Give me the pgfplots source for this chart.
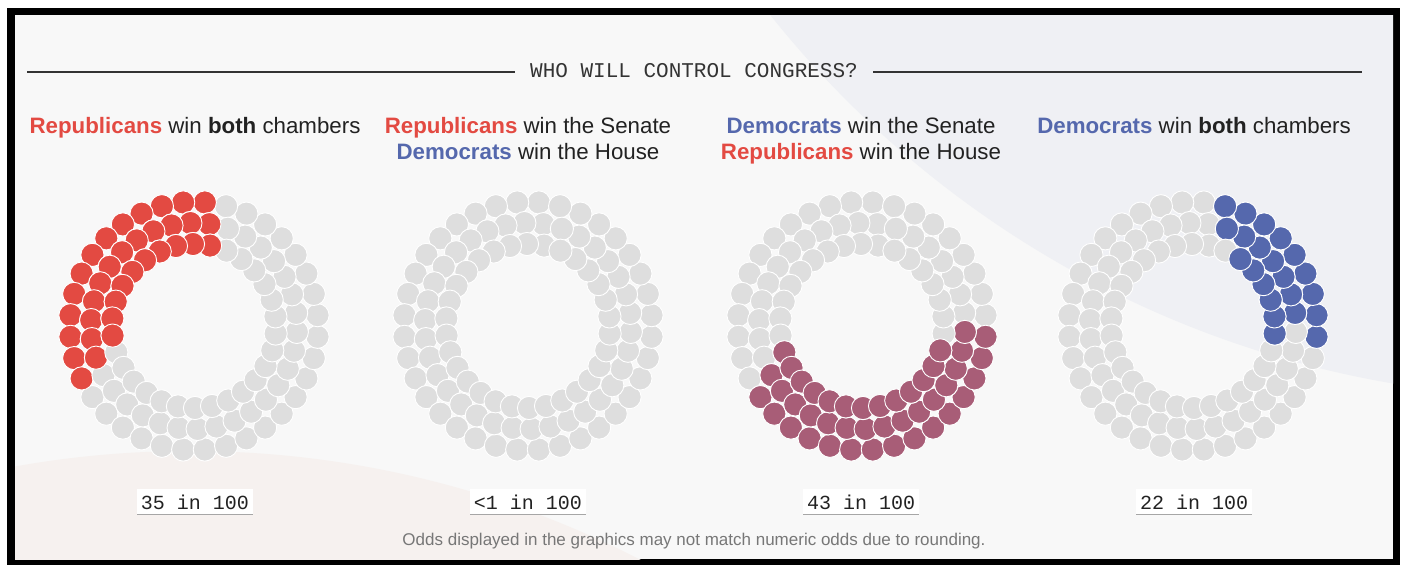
\documentclass[border=0pt]{standalone}
\usepackage{fontspec}
\setmainfont{Liberation Sans}
\newfontfamily\monofont{Liberation Mono}
\usepackage{pgfplots}
\pgfplotsset{compat=1.18}
\usepackage{pgfplotstable}
\definecolor{rep}{HTML}{E34A42}
\definecolor{dem}{HTML}{5568AD}
\definecolor{mix}{HTML}{A85D77}
\definecolor{dotgray}{HTML}{DEDEDE}
\definecolor{panel}{HTML}{F8F8F8}
\definecolor{shadeA}{HTML}{EFF0F4}
\definecolor{shadeB}{HTML}{F6F1EF}
\definecolor{ink}{HTML}{333333}
\definecolor{txt}{HTML}{222222}
\definecolor{note}{HTML}{777777}

% dot positions: angle (deg), ring radius
\pgfplotstableread{
a r
85 124
95 124
105 124
115 124
125 124
135 124
145 124
155 124
165 124
175 124
185 124
195 124
205 124
215 124
225 124
235 124
245 124
255 124
265 124
275 124
285 124
295 124
305 124
315 124
325 124
335 124
345 124
355 124
365 124
375 124
385 124
395 124
405 124
415 124
425 124
435 124
}\outerring
\pgfplotstableread{
a r
81.4 103
92.0 103
102.6 103
113.2 103
123.8 103
134.3 103
144.9 103
155.5 103
166.1 103
176.7 103
187.3 103
197.9 103
208.5 103
219.0 103
229.6 103
240.2 103
250.8 103
261.4 103
272.0 103
282.6 103
293.2 103
303.7 103
314.3 103
324.9 103
335.5 103
346.1 103
356.7 103
367.3 103
377.9 103
388.5 103
399.0 103
409.6 103
420.2 103
430.8 103
}\middlering
\pgfplotstableread{
a r
78.7 82
90.7 82
102.7 82
114.7 82
126.7 82
138.7 82
150.7 82
162.7 82
174.7 82
186.7 82
198.7 82
210.7 82
222.7 82
234.7 82
246.7 82
258.7 82
270.7 82
282.7 82
294.7 82
306.7 82
318.7 82
330.7 82
342.7 82
354.7 82
366.7 82
378.7 82
390.7 82
402.7 82
414.7 82
426.7 82
}\innerring

\pgfplotsset{
  donut/.style={x=1pt,y=1pt,xmin=-140,xmax=140,ymin=-140,ymax=140,
    hide axis,clip=false,anchor=center,data cs=polar},
  dot/.style={only marks,mark=*,mark size=11.6pt,
    mark options={draw=white,line width=0.9pt,fill=#1}},
}

\begin{document}
\begin{tikzpicture}
\begin{scope}[x=1pt,y=-1pt]
\useasboundingbox (0,0) rectangle (1405,565);
\fill[white] (0,0) rectangle (1405,565);
\fill[black] (7,8) rectangle (1400,565);
\begin{scope}
\clip (15,15) rectangle (1393,559);
\fill[panel] (15,15) rectangle (1393,559);
\fill[shadeA] (1565,-618) circle (1016);
\fill[shadeB] (190,1436) circle (985);
\end{scope}

% title
\draw[ink,line width=1.4pt] (27,72) -- (515,72);
\draw[ink,line width=1.4pt] (873,72) -- (1362,72);
\node[anchor=base,text=ink,font=\monofont\fontsize{21}{21}\selectfont] at (694,77.5) {WHO WILL CONTROL CONGRESS?};

% headlines
\begin{scope}[every node/.style={anchor=base,text=txt,font=\fontsize{22.3}{26}\selectfont}]
\node at (195,133.5) {\textcolor{rep}{\textbf{Republicans}} win \textbf{both} chambers};
\node at (528,133.5) {\textcolor{rep}{\textbf{Republicans}} win the Senate};
\node at (528,159.5) {\textcolor{dem}{\textbf{Democrats}} win the House};
\node at (861,133.5) {\textcolor{dem}{\textbf{Democrats}} win the Senate};
\node at (861,159.5) {\textcolor{rep}{\textbf{Republicans}} win the House};
\node at (1194,133.5) {\textcolor{dem}{\textbf{Democrats}} win \textbf{both} chambers};
\end{scope}

% odds labels
\foreach \cx/\lab in {195/35 in 100, 528/<1 in 100, 861/43 in 100, 1194/22 in 100}{
  \fill[white] (\cx-58,489) rectangle (\cx+58,515);
  \draw[black!35,line width=1.5pt] (\cx-58,514.5) -- (\cx+58,514.5);
  \node[anchor=base,text=txt,font=\monofont\fontsize{20}{20}\selectfont] at (\cx,509) {\lab};
}

% footnote
\node[anchor=base,text=note,font=\fontsize{17}{19}\selectfont] at (694,545.5)
  {Odds displayed in the graphics may not match numeric odds due to rounding.};
\end{scope}

% donut 1: Republicans both (35)
\begin{axis}[donut,at={(194pt,-326pt)}]
\addplot[dot=dotgray] table[x=a,y=r]{\outerring};
\addplot[dot=rep,restrict expr to domain={\coordindex}{0:12}] table[x=a,y=r]{\outerring};
\addplot[dot=dotgray] table[x=a,y=r]{\middlering};
\addplot[dot=rep,restrict expr to domain={\coordindex}{0:11}] table[x=a,y=r]{\middlering};
\addplot[dot=dotgray] table[x=a,y=r]{\innerring};
\addplot[dot=rep,restrict expr to domain={\coordindex}{0:9}] table[x=a,y=r]{\innerring};
\end{axis}
% donut 2: <1
\begin{axis}[donut,at={(528pt,-326pt)}]
\addplot[dot=dotgray] table[x=a,y=r]{\outerring};
\addplot[dot=dotgray] table[x=a,y=r]{\middlering};
\addplot[dot=dotgray] table[x=a,y=r]{\innerring};
\end{axis}
% donut 3: D senate, R house (43)
\begin{axis}[donut,at={(862pt,-326pt)}]
\addplot[dot=dotgray] table[x=a,y=r]{\outerring};
\addplot[dot=mix,restrict expr to domain={\coordindex}{13:27}] table[x=a,y=r]{\outerring};
\addplot[dot=dotgray] table[x=a,y=r]{\middlering};
\addplot[dot=mix,restrict expr to domain={\coordindex}{12:26}] table[x=a,y=r]{\middlering};
\addplot[dot=dotgray] table[x=a,y=r]{\innerring};
\addplot[dot=mix,restrict expr to domain={\coordindex}{10:22}] table[x=a,y=r]{\innerring};
\end{axis}
% donut 4: Democrats both (22)
\begin{axis}[donut,at={(1193pt,-326pt)}]
\addplot[dot=dotgray] table[x=a,y=r]{\outerring};
\addplot[dot=dem,restrict expr to domain={\coordindex}{27:35}] table[x=a,y=r]{\outerring};
\addplot[dot=dotgray] table[x=a,y=r]{\middlering};
\addplot[dot=dem,restrict expr to domain={\coordindex}{27:33}] table[x=a,y=r]{\middlering};
\addplot[dot=dotgray] table[x=a,y=r]{\innerring};
\addplot[dot=dem,restrict expr to domain={\coordindex}{23:28}] table[x=a,y=r]{\innerring};
\end{axis}
\end{tikzpicture}
\end{document}
